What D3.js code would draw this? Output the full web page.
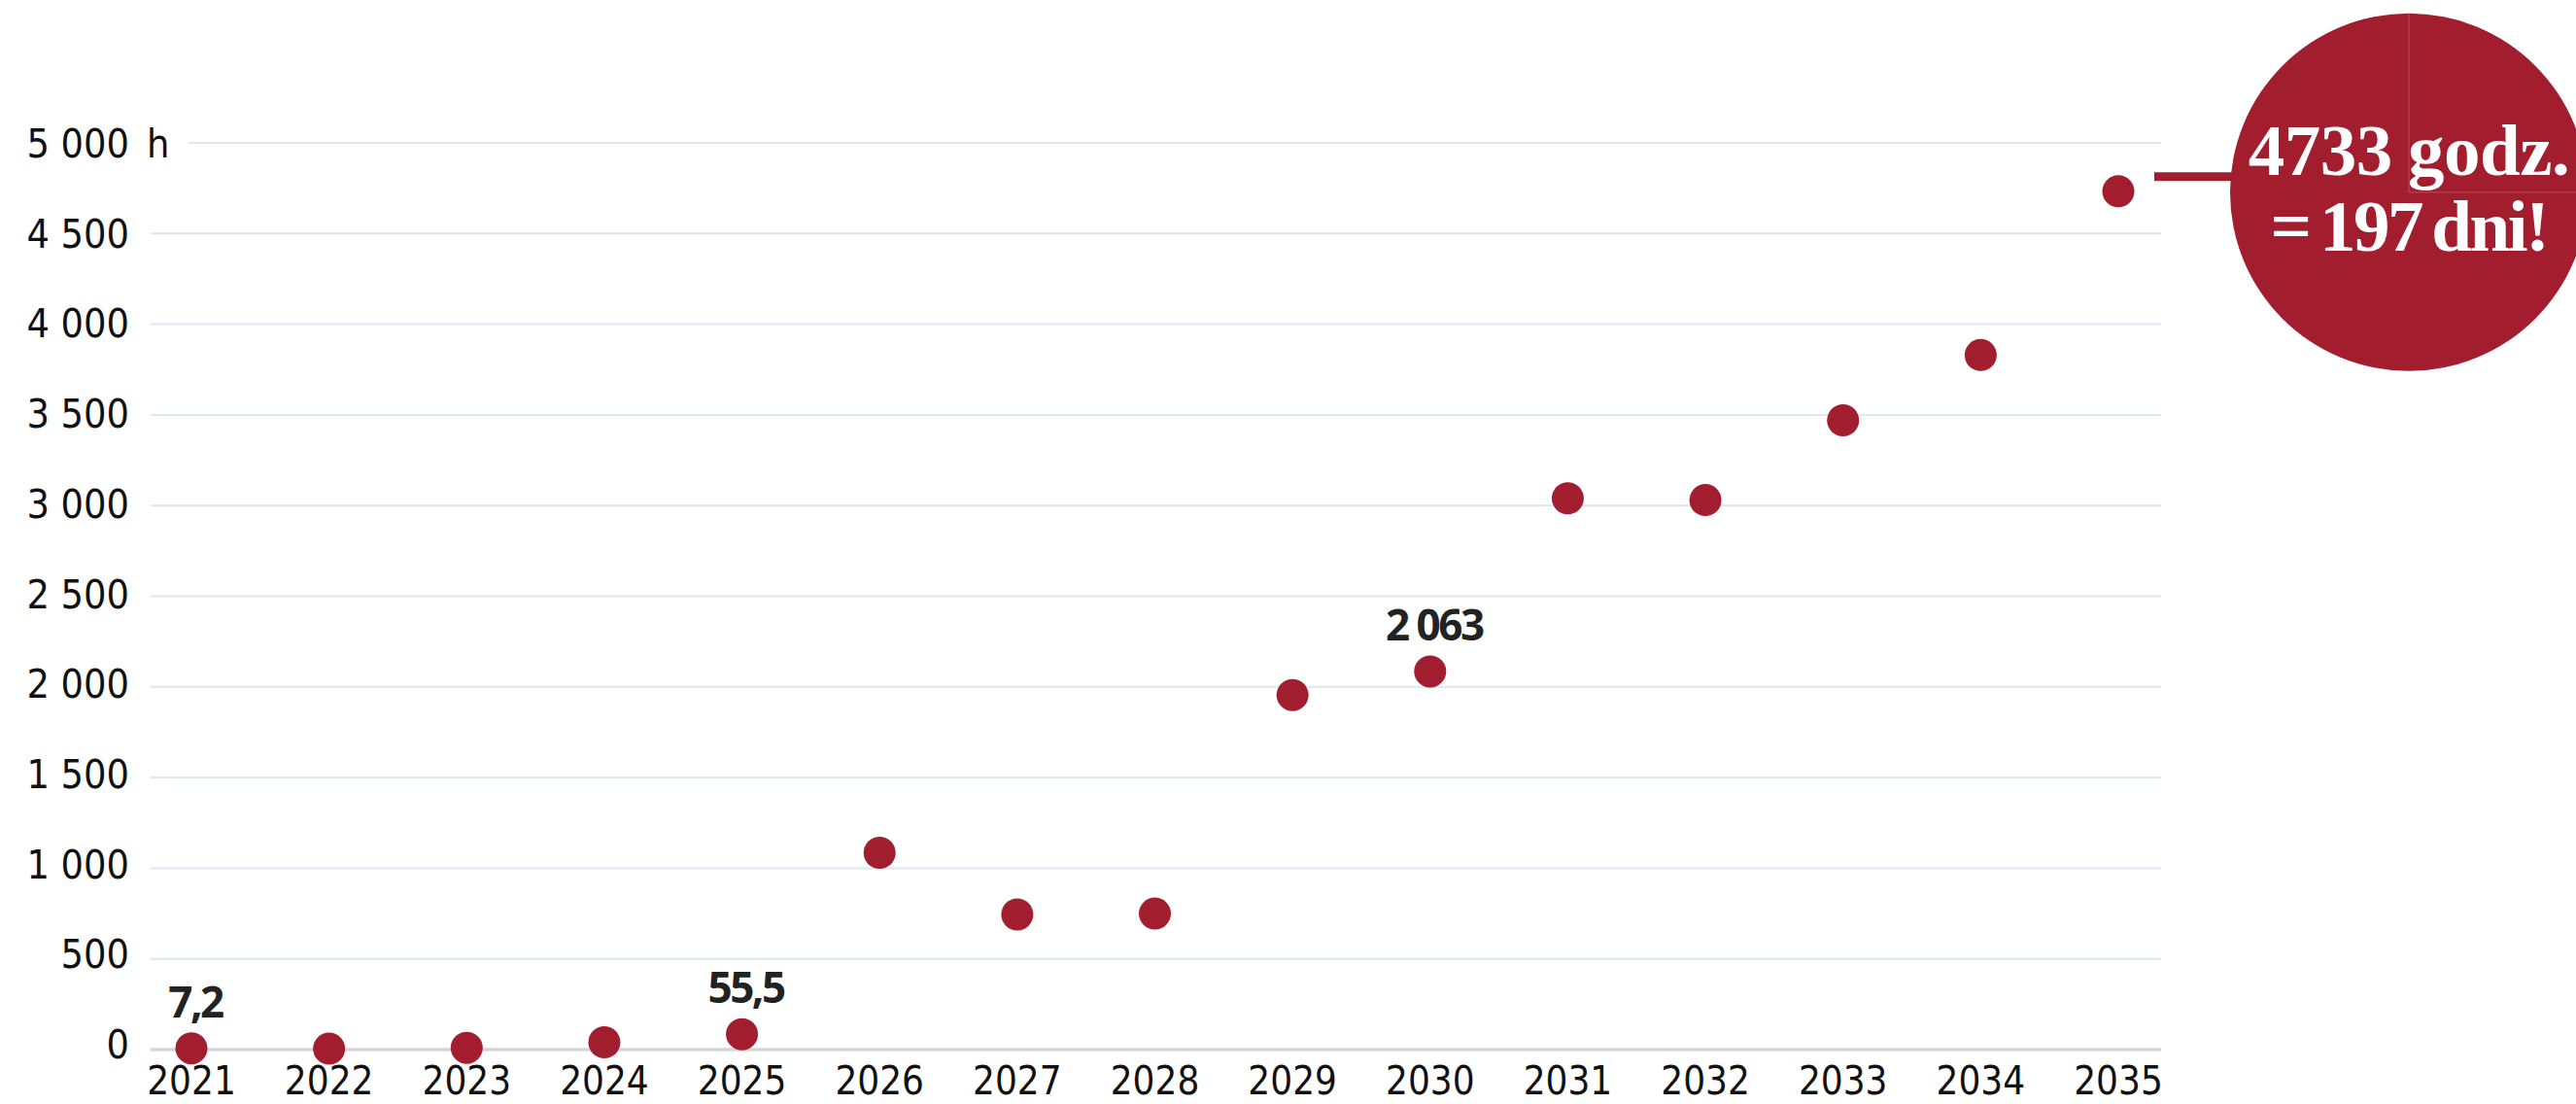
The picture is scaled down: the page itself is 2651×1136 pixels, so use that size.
<html>
<head>
<meta charset="utf-8">
<title>Godziny</title>
<style>
  body { margin: 0; background: #fff; }
  svg { display: block; }
</style>
</head>
<body>
<div id="chart"></div>
<script src="https://cdn.jsdelivr.net/npm/d3@7"></script>
<script type="text/javascript">

// values
var years = [2021, 2022, 2023, 2024, 2025, 2026, 2027, 2028, 2029, 2030, 2031, 2032, 2033, 2034, 2035];
var hours = [7.2, 5, 10, 40, 85, 1085, 745, 750, 1955, 2085, 3040, 3030, 3470, 3830, 4733];

var yTicks = [0, 500, 1000, 1500, 2000, 2500, 3000, 3500, 4000, 4500, 5000];
var unitLabel = "h";

// small value labels over some of the dots
var labelYears = [2021, 2025, 2030];
var labelTexts = ["7,2", "55,5", "2 063"];

var calloutLines = ["4733 godz.", "= 197 dni!"];

var W = 2651, H = 1136;
var red = "#a21e2f";

var svg = d3.select("#chart").append("svg")
    .attr("width", W)
    .attr("height", H);

var x = d3.scaleLinear().domain([2021, 2035]).range([197, 2180]);
var y = d3.scaleLinear().domain([0, 5000]).range([1080, 147]);
// tick labels sit a little off their lines in the original
var yLab = d3.scaleLinear().domain([0, 5000]).range([1089, 162]);

var fmt = d3.formatLocale({decimal: ",", thousands: " ", grouping: [3], currency: ["", ""]}).format(",d");

// grid
svg.append("g").selectAll("line")
    .data(yTicks)
    .enter()
    .append("line")
        .attr("x1", function(d) { return d === 5000 ? 194 : 155; })
        .attr("x2", 2224)
        .attr("y1", function(d) { return y(d); })
        .attr("y2", function(d) { return y(d); })
        .attr("stroke", function(d) { return d === 0 ? "#d6d6d6" : "#dfe6ed"; })
        .attr("stroke-width", function(d) { return d === 0 ? 3.5 : 2; });

// y labels
svg.append("g").selectAll("text")
    .data(yTicks)
    .enter()
    .append("text")
        .attr("x", 133)
        .attr("y", function(d) { return yLab(d); })
        .attr("text-anchor", "end")
        .attr("font-family", "'DejaVu Sans Condensed', 'DejaVu Sans', sans-serif")
        .attr("font-size", 41)
        .attr("fill", "#111")
        .text(function(d) { return fmt(d); });

svg.append("text")
    .attr("x", 151)
    .attr("y", yLab(5000))
    .attr("font-family", "'DejaVu Sans Condensed', 'DejaVu Sans', sans-serif")
    .attr("font-size", 41)
    .attr("fill", "#111")
    .text(unitLabel);

// x labels
svg.append("g").selectAll("text")
    .data(years)
    .enter()
    .append("text")
        .attr("x", function(d) { return x(d); })
        .attr("y", 1126)
        .attr("text-anchor", "middle")
        .attr("font-family", "'DejaVu Sans Condensed', 'DejaVu Sans', sans-serif")
        .attr("font-size", 40)
        .attr("fill", "#111")
        .text(function(d) { return d; });

// dots
svg.append("g").selectAll("circle")
    .data(years)
    .enter()
    .append("circle")
        .attr("cx", function(d) { return x(d); })
        .attr("cy", function(d, i) { return y(hours[i]); })
        .attr("r", 16.5)
        .attr("fill", red);

// value labels
svg.append("g").selectAll("text")
    .data(labelYears)
    .enter()
    .append("text")
        .attr("x", function(d) { return x(d) + 4; })
        .attr("y", function(d) { return y(hours[years.indexOf(d)]) - 32; })
        .attr("text-anchor", "middle")
        .attr("font-family", "'Open Sans', sans-serif")
        .attr("font-weight", 700)
        .attr("font-size", 44)
        .attr("letter-spacing", "-2.5px")
        .attr("fill", "#222")
        .text(function(d, i) { return labelTexts[i]; });

// callout for the last point
var last = years.length - 1;
var px = x(years[last]), py = y(hours[last]);
var cx = px + 299, cy = py + 1, r = 184;

svg.append("line")
    .attr("x1", px + 37)
    .attr("x2", cx - r + 4)
    .attr("y1", cy - 16)
    .attr("y2", cy - 16)
    .attr("stroke", red)
    .attr("stroke-width", 9);

svg.append("circle")
    .attr("cx", cx)
    .attr("cy", cy)
    .attr("r", r)
    .attr("fill", red);

// faint marks inside the circle
svg.append("path")
    .attr("d", "M" + cx + "," + (cy - r) + "V" + cy + "H" + W)
    .attr("fill", "none")
    .attr("stroke", "#fff")
    .attr("stroke-opacity", 0.22)
    .attr("stroke-width", 1);

svg.append("g").selectAll("text")
    .data(calloutLines)
    .enter()
    .append("text")
        .attr("x", cx)
        .attr("y", function(d, i) { return cy - 18 + i * 78; })
        .attr("text-anchor", "middle")
        .attr("font-family", "'Liberation Serif', 'DejaVu Serif', serif")
        .attr("font-weight", 700)
        .attr("font-size", 75)
        .attr("letter-spacing", function(d, i) { return i === 0 ? "-0.5px" : "-2.5px"; })
        .attr("word-spacing", function(d, i) { return i === 0 ? "-2px" : "-6px"; })
        .attr("fill", "#fff")
        .text(function(d) { return d; });

</script>
</body>
</html>
